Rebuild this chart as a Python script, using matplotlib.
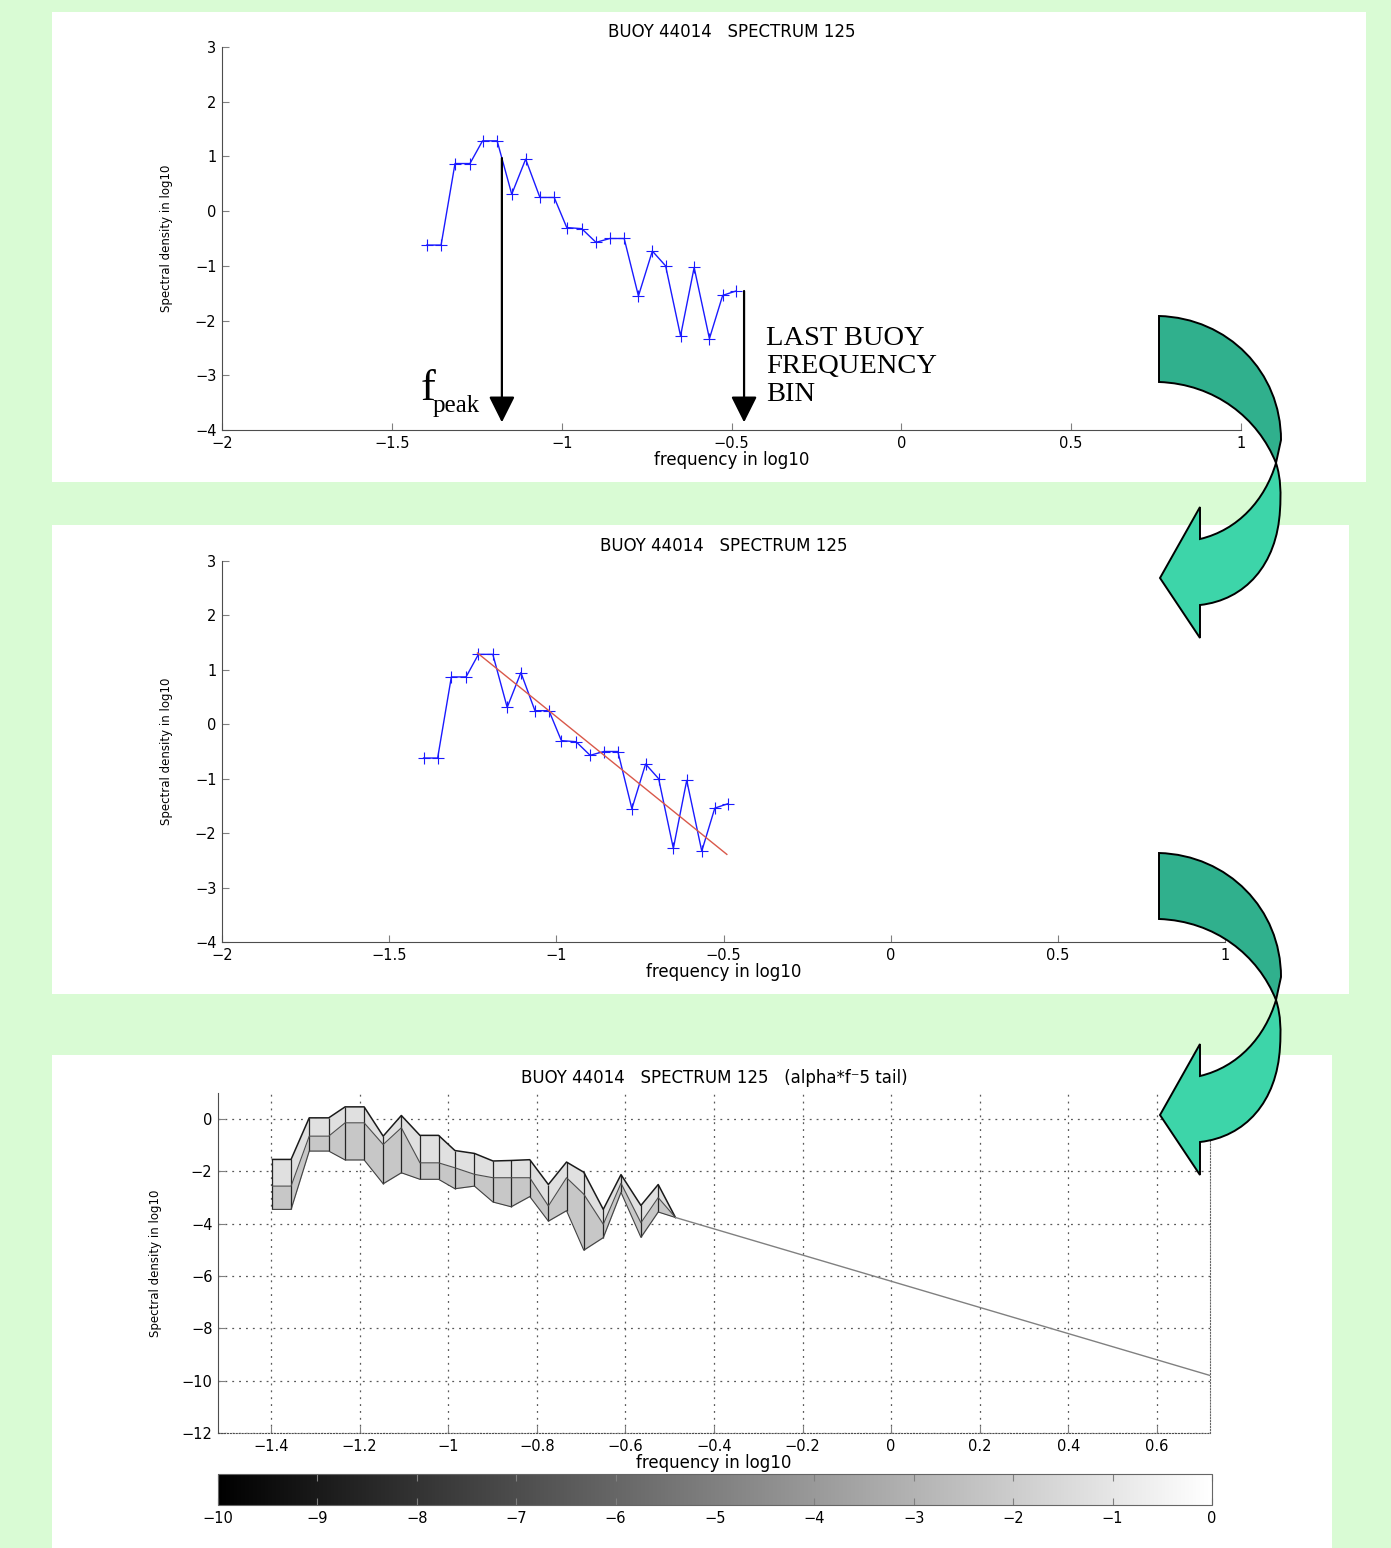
import matplotlib
matplotlib.use("Agg")
import matplotlib.pyplot as plt
import numpy as np
from matplotlib.path import Path
from matplotlib.patches import PathPatch, Rectangle
from matplotlib.cm import ScalarMappable
from matplotlib.colors import Normalize

# ---- data ----
freq = [-1.397, -1.355, -1.314, -1.270, -1.233, -1.190, -1.147, -1.106, -1.064, -1.022,
        -0.985, -0.941, -0.899, -0.858, -0.816, -0.774, -0.733, -0.694, -0.650, -0.610,
        -0.565, -0.526, -0.487]
dens = [-0.62, -0.62, 0.87, 0.87, 1.285, 1.285, 0.31, 0.95, 0.25, 0.25,
        -0.30, -0.32, -0.57, -0.50, -0.50, -1.55, -0.73, -1.00, -2.28, -1.03,
        -2.33, -1.54, -1.46]

fit_x = [-1.236, -0.49]
fit_y = [1.31, -2.39]

fan_top = [-1.54, -1.54, 0.05, 0.05, 0.47, 0.47, -0.65, 0.14, -0.62, -0.62,
           -1.20, -1.31, -1.60, -1.58, -1.55, -2.50, -1.64, -2.03, -3.45, -2.12,
           -3.30, -2.50, -3.76]
fan_mid = [-2.56, -2.56, -0.65, -0.65, -0.14, -0.14, -0.97, -0.33, -1.67, -1.67,
           -1.86, -2.11, -2.24, -2.24, -2.24, -3.32, -2.24, -2.87, -4.02, -2.45,
           -3.96, -3.00, -3.76]
fan_low = [-3.45, -3.45, -1.22, -1.22, -1.56, -1.56, -2.47, -2.05, -2.30, -2.30,
           -2.66, -2.56, -3.17, -3.35, -2.96, -3.90, -3.50, -5.01, -4.53, -2.80,
           -4.52, -3.55, -3.76]
tail_x = [-0.487, 0.72]
tail_y = [-3.76, -9.80]

top_xticks = [-2, -1.5, -1, -0.5, 0, 0.5, 1]
top_yticks = [3, 2, 1, 0, -1, -2, -3, -4]
bot_xticks = [-1.4, -1.2, -1, -0.8, -0.6, -0.4, -0.2, 0, 0.2, 0.4, 0.6]
bot_yticks = [0, -2, -4, -6, -8, -10, -12]
cb_ticks = [-10, -9, -8, -7, -6, -5, -4, -3, -2, -1, 0]

W, H = 1391, 1548
bg = "#d9fbd4"


def lab(v):
    return ("%g" % v).replace("-", "\u2212")


def fx(x):
    return x / W


def fy(y):
    return 1 - y / H


fig = plt.figure(figsize=(W / 100, H / 100), dpi=100, facecolor=bg)

# white panels
for (x0, y0, x1, y1) in [(52, 12, 1366, 482), (52, 525, 1349, 994), (52, 1055, 1332, 1548)]:
    fig.patches.append(Rectangle((fx(x0), fy(y1)), fx(x1 - x0), (y1 - y0) / H,
                                 transform=fig.transFigure, facecolor="white",
                                 edgecolor="none", zorder=-5))

tick_font = 10.5
lab_font = dict(family=["Liberation Sans Narrow", "DejaVu Sans"], fontsize=8.5)


def style_axes(ax, xticks, yticks):
    for s in ["top", "right"]:
        ax.spines[s].set_visible(False)
    ax.spines["left"].set_color("0.3")
    ax.spines["bottom"].set_color("0.3")
    ax.set_xticks(xticks)
    ax.set_xticklabels([lab(v) for v in xticks])
    ax.set_yticks(yticks)
    ax.set_yticklabels([lab(v) for v in yticks])
    ax.tick_params(direction="in", length=5, color="0.5", labelsize=tick_font, pad=4)


def spectrum_axes(rect):
    ax = fig.add_axes(rect)
    ax.plot(freq, dens, color="#1a1aff", lw=1.0, marker="+", ms=8, mew=0.8)
    ax.set_xlim(-2, 1)
    ax.set_ylim(-4, 3)
    style_axes(ax, top_xticks, top_yticks)
    ax.set_title("BUOY 44014   SPECTRUM 125", fontsize=12, pad=7)
    ax.set_xlabel("frequency in log10", fontsize=12, labelpad=0)
    ax.set_ylabel("Spectral density in log10", labelpad=16, **lab_font)
    return ax


# ---- panel 1 ----
ax1 = spectrum_axes([fx(222), fy(430), fx(1019), 383 / H])
arrow_kw = dict(arrowstyle="-|>,head_length=0.8,head_width=0.4", mutation_scale=20,
                color="black", lw=1.6, shrinkA=0, shrinkB=0)
ax1.annotate("", xy=(-1.176, -3.86), xytext=(-1.176, 0.97), arrowprops=arrow_kw)
ax1.annotate("", xy=(-0.463, -3.86), xytext=(-0.463, -1.46), arrowprops=arrow_kw)
ax1.text(-1.414, -3.455, "f", family="Liberation Serif", fontsize=32, va="baseline")
ax1.text(-1.379, -3.675, "peak", family="Liberation Serif", fontsize=18, va="baseline")
ax1.text(-0.399, -2.84, "LAST BUOY\nFREQUENCY\nBIN", family="Liberation Serif",
         fontsize=20.5, va="center", ha="left", linespacing=1.15)

# ---- panel 2 ----
ax2 = spectrum_axes([fx(222), fy(942), fx(1003), 381 / H])
ax2.plot(fit_x, fit_y, color="#d9584a", lw=1.0)

# ---- panel 3 ----
ax3 = fig.add_axes([fx(218), fy(1433), fx(992), 340 / H])
ax3.fill_between(freq, fan_low, fan_top, color="0.88", lw=0)
ax3.fill_between(freq, fan_low, fan_mid, color="0.78", lw=0)
ax3.vlines(freq, fan_low, fan_top, color="0.15", lw=0.9)
ax3.plot(freq, fan_top, color="0.1", lw=1.1)
ax3.plot(freq, fan_mid, color="0.3", lw=0.8)
ax3.plot(freq, fan_low, color="0.25", lw=0.8)
ax3.plot(tail_x, tail_y, color="0.5", lw=1.0)
ax3.set_xlim(-1.52, 0.72)
ax3.set_ylim(-12, 1)
style_axes(ax3, bot_xticks, bot_yticks)
ax3.spines["right"].set_visible(True)
ax3.spines["right"].set_linestyle(":")
ax3.spines["right"].set_color("0.4")
ax3.spines["bottom"].set_linestyle(":")
ax3.grid(True, linestyle=(0, (1.5, 4)), color="0.35", lw=0.9)
ax3.set_axisbelow(True)
ax3.set_title("BUOY 44014   SPECTRUM 125   (alpha*f\u207b5 tail)", fontsize=12, pad=7)
ax3.set_xlabel("frequency in log10", fontsize=12, labelpad=0)
ax3.set_ylabel("Spectral density in log10", labelpad=14, **lab_font)

# colorbar
cax = fig.add_axes([fx(218), fy(1505), fx(994), 31 / H])
sm = ScalarMappable(norm=Normalize(-10, 0), cmap="gray")
cb = fig.colorbar(sm, cax=cax, orientation="horizontal", ticks=cb_ticks)
cb.ax.set_xticklabels([lab(v) for v in cb_ticks])
cb.ax.tick_params(direction="in", length=5, color="0.5", labelsize=tick_font,
                  top=True, bottom=True, pad=4)
cb.outline.set_edgecolor("0.4")


# ---- green bent arrows ----
def bend(dy):
    def P(pts):
        return [(fx(x), fy(y + dy)) for x, y in pts]

    dark = P([(1159, 316), (1228, 318), (1281, 372), (1281, 440), (1276, 463),
              (1258, 418), (1215, 384), (1159, 382), (1159, 316)])
    dcodes = [Path.MOVETO, Path.CURVE4, Path.CURVE4, Path.CURVE4, Path.LINETO,
              Path.CURVE4, Path.CURVE4, Path.CURVE4, Path.CLOSEPOLY]
    light = P([(1276, 463), (1281, 478), (1281, 495), (1280, 510),
               (1277, 565), (1245, 600), (1200, 605),
               (1200, 638), (1160, 578), (1200, 507), (1200, 539),
               (1238, 530), (1265, 500), (1276, 463), (1276, 463)])
    lcodes = [Path.MOVETO, Path.CURVE4, Path.CURVE4, Path.CURVE4,
              Path.CURVE4, Path.CURVE4, Path.CURVE4,
              Path.LINETO, Path.LINETO, Path.LINETO, Path.LINETO,
              Path.CURVE4, Path.CURVE4, Path.CURVE4, Path.CLOSEPOLY]
    fig.patches.append(PathPatch(Path(light, lcodes), transform=fig.transFigure,
                                 facecolor="#3dd5a9", edgecolor="black", lw=1.4, zorder=10))
    fig.patches.append(PathPatch(Path(dark, dcodes), transform=fig.transFigure,
                                 facecolor="#30b08d", edgecolor="black", lw=1.4, zorder=11))


bend(0)
bend(537)

fig.savefig("out.png", dpi=100, facecolor=bg)
